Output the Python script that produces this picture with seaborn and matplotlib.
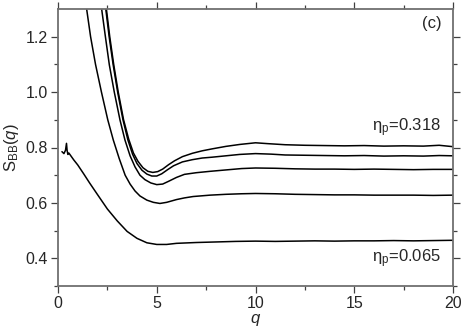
import matplotlib
matplotlib.use("Agg")
import matplotlib.pyplot as plt
import numpy as np
import seaborn as sns
import pandas as pd
from matplotlib.ticker import FixedLocator

# curves, eta_p from low to high
q_065 = [0.2, 0.3, 0.38, 0.43, 0.46, 0.5, 0.55, 0.65, 0.8, 1.0, 1.3, 1.6, 2.0, 2.5, 3.0, 3.5, 4.0, 4.5,
         5.0, 5.5, 6.0, 7.0, 8.0, 9.0, 10, 11, 12, 13, 14, 15, 16, 17, 18, 19, 20]
s_065 = [0.785, 0.778, 0.79, 0.815, 0.79, 0.775, 0.78, 0.770, 0.755, 0.737, 0.705, 0.672, 0.630, 0.578,
         0.535, 0.497, 0.472, 0.456, 0.450, 0.450, 0.454, 0.457, 0.459, 0.461, 0.462, 0.461, 0.462, 0.463,
         0.462, 0.463, 0.463, 0.464, 0.463, 0.464, 0.465]

q_a = [1.38, 1.45, 1.65, 1.9, 2.2, 2.52, 2.8, 3.1, 3.4, 3.65, 3.9, 4.15, 4.5, 4.83, 5.16, 5.5, 6.0, 6.4,
       6.84, 7.7, 8.5, 9.3, 10.0, 11, 12, 13, 14, 15, 16, 17, 18, 19, 20]
s_a = [1.35, 1.30, 1.20, 1.10, 1.00, 0.90, 0.827, 0.76, 0.70, 0.668, 0.643, 0.625, 0.610, 0.602, 0.598,
       0.602, 0.612, 0.618, 0.623, 0.628, 0.631, 0.633, 0.634, 0.633, 0.631, 0.630, 0.629, 0.629, 0.628,
       0.628, 0.628, 0.627, 0.628]

q_b = [2.05, 2.21, 2.40, 2.60, 2.85, 3.14, 3.39, 3.65, 3.9, 4.15, 4.4, 4.7, 5.0, 5.3, 5.6, 6.0, 6.4, 7.0,
       7.7, 8.5, 9.3, 10.0, 11, 12, 13, 14, 15, 16, 17, 18, 19, 20]
s_b = [1.37, 1.30, 1.20, 1.098, 1.00, 0.899, 0.827, 0.77, 0.73, 0.70, 0.684, 0.672, 0.666, 0.668, 0.678,
       0.692, 0.703, 0.709, 0.714, 0.719, 0.724, 0.726, 0.725, 0.723, 0.722, 0.722, 0.721, 0.722, 0.721,
       0.720, 0.721, 0.721]

q_c = [2.28, 2.42, 2.59, 2.79, 3.02, 3.29, 3.54, 3.78, 4.0, 4.25, 4.5, 4.75, 5.0, 5.25, 5.55, 5.85, 6.3,
       6.8, 7.3, 7.8, 8.5, 9.2, 10.0, 10.8, 11.5, 12.5, 13.5, 14.5, 15.5, 16.5, 17.5, 18.5, 19.3, 20]
s_c = [1.37, 1.30, 1.20, 1.10, 1.00, 0.90, 0.827, 0.775, 0.742, 0.718, 0.704, 0.697, 0.697, 0.705, 0.72,
       0.734, 0.748, 0.756, 0.762, 0.765, 0.770, 0.775, 0.778, 0.776, 0.773, 0.772, 0.771, 0.770, 0.771,
       0.769, 0.770, 0.769, 0.771, 0.770]

q_318 = [2.30, 2.45, 2.62, 2.82, 3.05, 3.32, 3.58, 3.82, 4.05, 4.3, 4.55, 4.8, 5.05, 5.3, 5.6, 5.9, 6.3,
         6.8, 7.3, 7.8, 8.5, 9.2, 10.0, 10.6, 11.5, 12.5, 13.5, 14.5, 15.5, 16.5, 17.5, 18.5, 19.3, 20]
s_318 = [1.37, 1.30, 1.20, 1.10, 1.00, 0.90, 0.83, 0.78, 0.75, 0.727, 0.714, 0.710, 0.713, 0.722, 0.738,
         0.752, 0.767, 0.779, 0.788, 0.795, 0.804, 0.811, 0.817, 0.814, 0.810, 0.808, 0.807, 0.806, 0.807,
         0.805, 0.806, 0.805, 0.808, 0.803]

curves = [(q_065, s_065), (q_a, s_a), (q_b, s_b), (q_c, s_c), (q_318, s_318)]

x_major = [0, 5, 10, 15, 20]
x_minor = [2.5, 7.5, 12.5, 17.5]
y_major = [0.4, 0.6, 0.8, 1.0, 1.2]
y_minor = [0.3, 0.5, 0.7, 0.9, 1.1]

sns.set_style("ticks")
plt.rcParams['font.family'] = ['Liberation Sans', 'DejaVu Sans']
plt.rcParams['mathtext.fontset'] = 'custom'
plt.rcParams['mathtext.rm'] = 'Liberation Sans'
plt.rcParams['mathtext.it'] = 'Liberation Sans:italic'

fig = plt.figure(figsize=(4.63, 3.27), dpi=100)
ax = fig.add_axes([58 / 463, 41 / 327, 395 / 463, 277 / 327])

for qq, ss in curves:
    sns.lineplot(x=qq, y=ss, ax=ax, color='black', lw=1.1, sort=False, estimator=None)

ax.set_xlim(0, 20)
ax.set_ylim(0.3, 1.3)
ax.xaxis.set_major_locator(FixedLocator(x_major))
ax.xaxis.set_minor_locator(FixedLocator(x_minor))
ax.yaxis.set_major_locator(FixedLocator(y_major))
ax.yaxis.set_minor_locator(FixedLocator(y_minor))
ax.set_xticklabels([str(v) for v in x_major])
ax.set_yticklabels(['%.1f' % v for v in y_major])

for sp in ax.spines.values():
    sp.set_visible(True)
    sp.set_color('#707070')
    sp.set_linewidth(1.3)
ax.tick_params(which='major', direction='out', top=True, right=True, color='#404040',
               labelsize=11.5, width=0.9, length=5, pad=2.5)
ax.tick_params(which='minor', direction='out', top=True, right=True, bottom=True, left=True,
               color='#404040', width=0.9, length=3)

ax.set_xlabel('$q$', fontsize=12)
ax.xaxis.set_label_coords(0.5, -0.094)
ax.set_ylabel(r'S$_{\rm BB}$($q$)', fontsize=12, labelpad=3)

ax.text(19.4, 0.870, 'η$_{\\rm p}$=0.318', ha='right', va='center', fontsize=12)
ax.text(19.4, 0.40, 'η$_{\\rm p}$=0.065', ha='right', va='center', fontsize=12)
ax.text(19.42, 1.246, '(c)', ha='right', va='center', fontsize=12)

fig.savefig('out.png', dpi=100)
